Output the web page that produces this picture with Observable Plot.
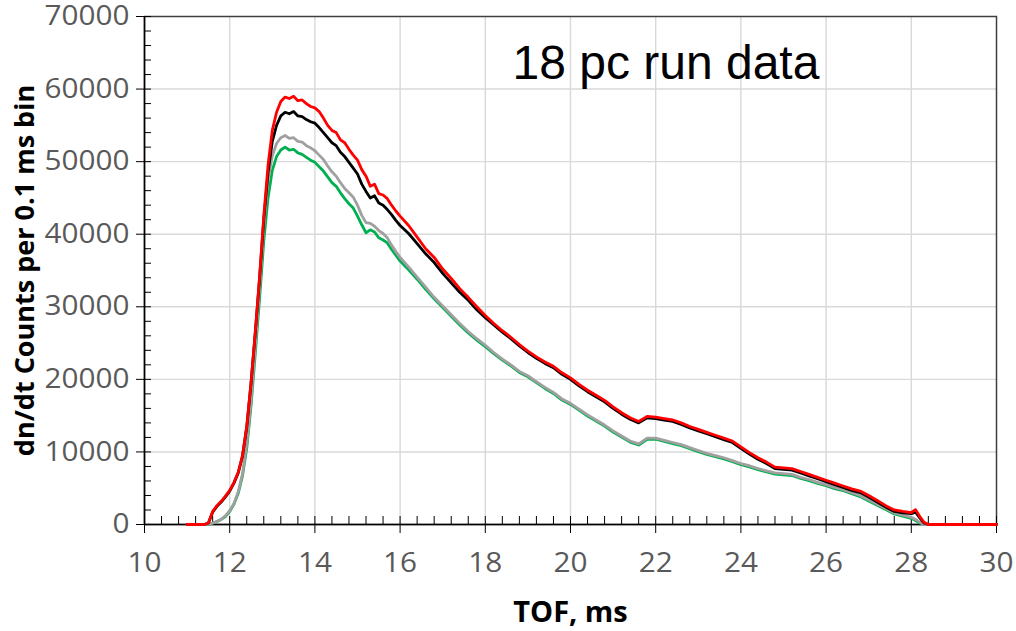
<!DOCTYPE html>
<html>
<head>
<meta charset="utf-8">
<script src="https://cdn.jsdelivr.net/npm/d3@7"></script>
<script src="https://cdn.jsdelivr.net/npm/@observablehq/plot@0.6"></script>
<style>
  html, body { margin: 0; padding: 0; background: #fff; }
  #chart { position: relative; width: 1016px; height: 631px; }
</style>
</head>
<body>
<div id="chart"></div>
<script>
// ---- data ----
const title = "18 pc run data";
const xLabel = "TOF, ms";
const yLabel = "dn/dt Counts per 0.1 ms bin";

const tof = [11.0, 11.2, 11.4, 11.5, 11.6, 11.7, 11.8, 11.9, 12.0, 12.1, 12.2, 12.3, 12.4, 12.5, 12.6, 12.7, 12.8, 12.9,
  13.0, 13.1, 13.2, 13.3, 13.4, 13.5, 13.6, 13.7, 13.8, 13.9, 14.0, 14.1, 14.2, 14.3, 14.4, 14.5, 14.6, 14.7, 14.8, 14.9,
  15.0, 15.1, 15.2, 15.3, 15.4, 15.5, 15.6, 15.7, 15.8, 15.9, 16.0, 16.2, 16.4, 16.6, 16.8, 17.0, 17.2, 17.4, 17.6, 17.8,
  18.0, 18.2, 18.4, 18.6, 18.8, 19.0, 19.2, 19.4, 19.6, 19.8, 20.0, 20.2, 20.4, 20.6, 20.8, 21.0, 21.2, 21.4, 21.6, 21.8,
  22.0, 22.2, 22.4, 22.6, 22.8, 23.0, 23.2, 23.4, 23.6, 23.8, 24.0, 24.2, 24.4, 24.6, 24.8, 25.0, 25.2, 25.4, 25.6, 25.8,
  26.0, 26.2, 26.4, 26.6, 26.8, 27.0, 27.2, 27.4, 27.6, 27.8, 28.0, 28.1, 28.2, 28.3, 28.4, 28.6, 29.0, 30.0];

const redCounts = [0, 0, 0, 200, 1800, 2600, 3200, 3900, 4700, 5800, 7200, 9500, 13500, 19500, 26500, 34000, 42500, 49500,
  54300, 56800, 58300, 58900, 58700, 59000, 58400, 58500, 58000, 57600, 57400, 56900, 56000, 55000, 54300, 54000, 53000, 52600, 51700, 50900,
  50200, 48900, 48000, 46600, 46900, 45600, 45400, 44900, 44000, 43200, 42500, 41200, 39600, 38000, 36800, 35200, 33900, 32500, 31300, 30000,
  28800, 27700, 26700, 25800, 24800, 23900, 23100, 22400, 21800, 20900, 20200, 19300, 18500, 17800, 17100, 16200, 15400, 14700, 14200, 14900,
  14800, 14600, 14400, 14000, 13500, 13100, 12700, 12300, 11900, 11500, 10700, 9900, 9200, 8600, 7900, 7800, 7700, 7300, 6900, 6500,
  6100, 5700, 5300, 4900, 4600, 4000, 3300, 2600, 2000, 1800, 1650, 2050, 1100, 300, 0, 0, 0, 0];

const blackCounts = [0, 0, 0, 200, 1700, 2500, 3100, 3800, 4600, 5700, 7100, 9400, 13400, 19400, 26400, 33800, 42000, 48500,
  52800, 55000, 56300, 56800, 56600, 56900, 56300, 56200, 55800, 55500, 55300, 54700, 54000, 53300, 52600, 52200, 51300, 50700, 49900, 49100,
  48300, 46900, 45900, 45000, 45300, 44300, 44000, 43400, 42700, 41900, 41200, 40100, 38700, 37300, 36100, 34600, 33300, 32000, 30900, 29600,
  28500, 27500, 26500, 25600, 24600, 23700, 22900, 22200, 21600, 20700, 20000, 19100, 18300, 17600, 16900, 16000, 15200, 14500, 14000, 14700,
  14600, 14400, 14200, 13800, 13300, 12900, 12500, 12100, 11700, 11300, 10500, 9700, 9000, 8400, 7700, 7600, 7500, 7100, 6700, 6300,
  5900, 5500, 5100, 4700, 4400, 3800, 3100, 2400, 1800, 1600, 1500, 1700, 900, 200, 0, 0, 0, 0];

const grayCounts = [0, 0, 0, 50, 200, 400, 700, 1200, 1900, 2900, 4500, 7000, 11000, 17000, 24500, 32500, 41000, 47500,
  50800, 52500, 53300, 53600, 53200, 53300, 52800, 52700, 52200, 51900, 51500, 50900, 50300, 49400, 48600, 48000, 47100, 46300, 45700, 45100,
  44000, 42600, 41600, 41500, 41100, 40500, 40100, 39500, 38500, 37600, 36800, 35500, 34100, 32700, 31300, 30100, 28900, 27700, 26600, 25600,
  24700, 23700, 22800, 22000, 21100, 20500, 19700, 18900, 18200, 17300, 16700, 15900, 15100, 14400, 13700, 12900, 12200, 11500, 11100, 11900,
  11900, 11600, 11300, 11000, 10600, 10200, 9800, 9500, 9200, 8800, 8400, 8100, 7700, 7400, 7100, 7000, 6900, 6500, 6200, 5800,
  5500, 5100, 4800, 4400, 4000, 3400, 2800, 2200, 1600, 1300, 1000, 700, 300, 0, 0, 0, 0, 0];

const greenCounts = [0, 0, 0, 50, 200, 400, 700, 1100, 1800, 2800, 4300, 6700, 10500, 16300, 23500, 31000, 39000, 45000,
  48800, 50700, 51600, 52000, 51600, 51700, 51200, 51000, 50600, 50200, 49900, 49300, 48700, 47900, 47100, 46600, 45700, 44900, 44200, 43600,
  42500, 41300, 40200, 40600, 40300, 39500, 39200, 38800, 37900, 37100, 36300, 35100, 33800, 32400, 31100, 29900, 28700, 27500, 26400, 25400,
  24500, 23550, 22650, 21850, 20950, 20350, 19550, 18750, 18050, 17150, 16550, 15750, 14950, 14250, 13550, 12750, 12050, 11350, 10950, 11750,
  11750, 11450, 11150, 10850, 10450, 10050, 9650, 9350, 9050, 8650, 8250, 7950, 7550, 7250, 6950, 6850, 6750, 6350, 6050, 5650,
  5350, 4950, 4650, 4250, 3850, 3250, 2650, 2050, 1450, 1150, 850, 550, 200, 0, 0, 0, 0, 0];

const xTicks = [10, 12, 14, 16, 18, 20, 22, 24, 26, 28, 30];
const xMinorTicks = d3.range(10, 30.001, 0.4).map(v => +v.toFixed(1));
const yTicks = [0, 10000, 20000, 30000, 40000, 50000, 60000, 70000];
const yMinorTicks = d3.range(0, 70001, 2000);
const xGrid = [12, 14, 16, 18, 20, 22, 24, 26, 28];
const yGrid = [10000, 20000, 30000, 40000, 50000, 60000];

const seriesList = [
  {name: "green", values: greenCounts, color: "#00b050"},
  {name: "gray", values: grayCounts, color: "#a0a0a0"},
  {name: "black", values: blackCounts, color: "#000000"},
  {name: "red", values: redCounts, color: "#ff0000"}
];

const tickFont = "'Open Sans', 'DejaVu Sans', sans-serif";

const lines = seriesList.map(s =>
  Plot.line(s.values, {x: (d, i) => tof[i], y: d => d, stroke: s.color, strokeWidth: 2.8, curve: "linear", strokeLinejoin: "round"})
);

const plot = Plot.plot({
  width: 1016,
  height: 631,
  marginLeft: 144,
  marginRight: 20,
  marginTop: 16,
  marginBottom: 107,
  style: {fontFamily: tickFont, background: "#fff"},
  x: {domain: [10, 30]},
  y: {domain: [0, 70000]},
  marks: [
    Plot.gridX(xGrid, {stroke: "#d9d9d9", strokeOpacity: 1, strokeWidth: 1.4}),
    Plot.gridY(yGrid, {stroke: "#d9d9d9", strokeOpacity: 1, strokeWidth: 1.4}),
    Plot.frame({stroke: "#3f3f3f", strokeWidth: 1.5}),
    Plot.axisY(yTicks, {anchor: "left", tickSize: 8, tickPadding: 7, fontSize: 27, color: "#595959", stroke: "#000", tickFormat: d => String(d),
      label: yLabel, labelAnchor: "center", labelArrow: "none", labelOffset: 130}),
    Plot.axisY(yMinorTicks, {anchor: "left", tickSize: -7, tickFormat: () => "", label: null, stroke: "#000"}),
    Plot.axisX(xTicks, {anchor: "bottom", tickSize: 9, tickPadding: 19, fontSize: 27, color: "#595959", stroke: "#000",
      label: xLabel, labelAnchor: "center", labelArrow: "none", labelOffset: 97}),
    Plot.axisX(xMinorTicks, {anchor: "bottom", tickSize: -8, tickFormat: () => "", label: null, stroke: "#000"}),
    Plot.ruleX([10], {stroke: "#000", strokeWidth: 1.5}),
    Plot.ruleY([0], {stroke: "#000", strokeWidth: 1.5}),
    ...lines,
    Plot.text([title], {frameAnchor: "top-left", dx: 368, dy: 28, fontSize: 48, fill: "#000", textAnchor: "start", lineAnchor: "top",
      fontFamily: "'Liberation Sans', Arial, sans-serif"})
  ]
});

// style axis labels (bold, black)
plot.querySelectorAll("g[aria-label='y-axis label'] text").forEach(t => {
  t.setAttribute("font-weight", "bold");
  t.setAttribute("fill", "#000");
  t.setAttribute("font-size", "27");
});
plot.querySelectorAll("g[aria-label='x-axis label'] text").forEach(t => {
  t.setAttribute("font-weight", "bold");
  t.setAttribute("fill", "#000");
  t.setAttribute("font-size", "29");
});
document.getElementById("chart").appendChild(plot);

// widen tick labels slightly (reference uses a wide, stretched face)
plot.querySelectorAll("g[aria-label='y-axis tick label'] text, g[aria-label='x-axis tick label'] text").forEach(t => {
  const len = t.getComputedTextLength();
  if (len > 0) {
    t.setAttribute("textLength", (len * 1.1).toFixed(1));
    t.setAttribute("lengthAdjust", "spacingAndGlyphs");
  }
});
</script>
</body>
</html>
